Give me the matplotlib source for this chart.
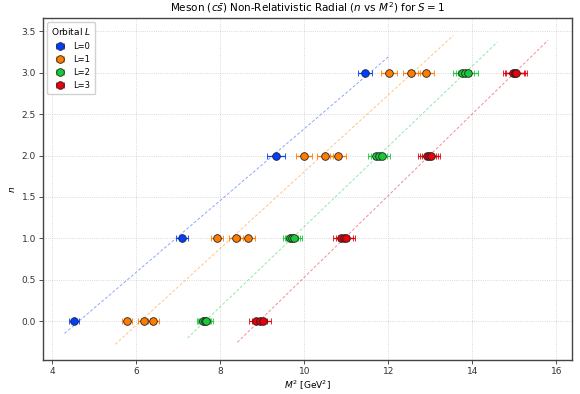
import numpy as np
import matplotlib
matplotlib.use("Agg")
import matplotlib.pyplot as plt

# radial number n and M^2 [GeV^2] per point, grouped by orbital L
L0_n = [0, 1, 2, 3]
L0_m2 = [4.52, 7.09, 9.33, 11.45]
L0_err = [0.13, 0.15, 0.21, 0.17]

L1_n = [0, 0, 0, 1, 1, 1, 2, 2, 2, 3, 3, 3]
L1_m2 = [5.79, 6.18, 6.41, 7.92, 8.37, 8.65, 10.00, 10.49, 10.80, 12.02, 12.55, 12.90]
L1_err = [0.12, 0.14, 0.14, 0.15, 0.17, 0.17, 0.19, 0.19, 0.19, 0.19, 0.20, 0.20]

L2_n = [0, 0, 0, 1, 1, 1, 2, 2, 2, 3, 3, 3]
L2_m2 = [7.60, 7.63, 7.67, 9.67, 9.72, 9.76, 11.71, 11.78, 11.84, 13.75, 13.82, 13.90]
L2_err = [0.16, 0.16, 0.17, 0.18, 0.18, 0.19, 0.19, 0.20, 0.20, 0.22, 0.22, 0.23]

L3_n = [0, 0, 0, 1, 1, 1, 2, 2, 2, 3, 3, 3]
L3_m2 = [8.85, 8.94, 9.02, 10.88, 10.95, 11.00, 12.92, 12.97, 13.01, 14.98, 15.02, 15.05]
L3_err = [0.17, 0.18, 0.18, 0.19, 0.20, 0.20, 0.21, 0.21, 0.21, 0.24, 0.24, 0.24]

GROUPS = [("L=0", L0_n, L0_m2, L0_err),
          ("L=1", L1_n, L1_m2, L1_err),
          ("L=2", L2_n, L2_m2, L2_err),
          ("L=3", L3_n, L3_m2, L3_err)]
COLORS = ["#023eff", "#ff7c00", "#1ac938", "#e8000b"]

fig = plt.figure(figsize=(5.8, 3.94), dpi=100)
ax = fig.add_axes([0.074, 0.086, 0.912, 0.868])

for (label, n, m2, err), c in zip(GROUPS, COLORS):
    m2 = np.array(m2)
    n = np.array(n)
    # linear fit n vs M^2 (dashed trajectory)
    k, b = np.polyfit(m2, n, 1)
    xs = np.linspace(m2.min() * 0.95, m2.max() * 1.05, 50)
    ax.plot(xs, k * xs + b, ls=(0, (3, 2)), lw=0.7, color=c, alpha=0.45, zorder=2)
    ax.errorbar(m2, n, xerr=err, fmt="o", color=c, ms=5.5, mec="#222222", mew=0.6,
                ecolor=c, elinewidth=0.9, capsize=2, capthick=0.9, label=label, zorder=3)

ax.set_xlim(3.78, 16.37)
ax.set_ylim(-0.47, 3.66)
ax.set_xticks([4, 6, 8, 10, 12, 14, 16])
ax.set_yticks([0.0, 0.5, 1.0, 1.5, 2.0, 2.5, 3.0, 3.5])
ax.tick_params(labelsize=6.5, length=3, width=0.6, pad=2, colors="#333333")
ax.grid(True, ls=":", lw=0.6, color="#cccccc")
for s in ax.spines.values():
    s.set_color("#444444")
    s.set_linewidth(1.0)

ax.set_xlabel("$M^2$ [GeV$^2$]", fontsize=6.5, labelpad=2)
ax.set_ylabel("$n$", fontsize=6.5, labelpad=3)
ax.set_title(r"Meson ($c\bar{s}$) Non-Relativistic Radial ($n$ vs $M^2$) for $S=1$", fontsize=7.5, pad=5)
leg = ax.legend(loc="upper left", title="Orbital $L$", fontsize=6, title_fontsize=6.5,
                framealpha=0.9, borderpad=0.5, handletextpad=0.6)

fig.savefig("out.png", dpi=100)
